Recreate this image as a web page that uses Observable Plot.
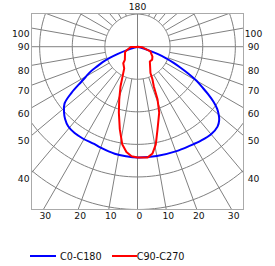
<!DOCTYPE html>
<html><head><meta charset="utf-8">
<script src="https://cdn.jsdelivr.net/npm/d3@7"></script>
<script src="https://cdn.jsdelivr.net/npm/@observablehq/plot@0.6"></script>
<style>
body{margin:0;background:#fff;font-family:"DejaVu Sans",Verdana,sans-serif;}
#wrap{position:relative;width:275px;height:266px;overflow:hidden;}
#chart svg{display:block;}
#legend{position:absolute;left:30px;top:249px;height:14px;display:flex;align-items:center;font-size:9.7px;color:#111;white-space:nowrap;}
.sw{display:inline-block;height:2px;}
</style></head><body><div id="wrap"><div id="chart"></div><div id="legend"></div></div>
<script>
// series
const seriesNames = ["C0-C180", "C90-C270"];
const seriesColors = ["#0000ff", "#ff0000"];
// grid
const circleValues = [100, 200, 300, 400, 500];
const spokeAngles = [10, 20, 30, 40, 50, 60, 70, 80, 100, 110, 120, 130, 140, 150, 160, 170];
// tick labels
const sideTickLabels = [100, 90, 80, 70, 60, 50, 40];
const bottomTickLabels = ["30", "20", "10", "0", "10", "20", "30"];
const bottomTickAngles = [-30, -20, -10, 0, 10, 20, 30];
const topTickLabel = "180";

// C0-C180 (blue): C180 half (left), gamma from 75 down to 0
const blueC180Gamma = [75, 74, 72, 70, 68, 66, 64, 62, 60, 58, 55, 52, 48, 45, 41, 36, 31, 24, 20, 12, 6, 0];
const blueC180Value = [0, 9, 34, 64, 92, 117, 138, 163, 181, 203, 247, 284, 303, 314, 324, 328, 328, 327, 330, 336, 338, 340];
// C0 half (right), gamma from 0 up to 75
const blueC0Gamma = [0, 10, 20, 28, 34, 40, 45, 48, 50, 52, 54, 56, 58, 60, 62, 64, 66, 68, 70, 72, 74, 75];
const blueC0Value = [340, 341, 342, 344, 348, 351, 347, 337, 325, 310, 288, 261, 233, 209, 178, 147, 120, 95, 67, 34, 9, 0];

// C90-C270 (red): C270 half (left), from top down
const redC270Gamma = [90, 86.7, 68, 43.9, 40.6, 31.5, 25.8, 23.2, 19.1, 15.8, 12.1, 8.9, 6, 3.1, 0];
const redC270Value = [0, 21, 41, 56, 67, 78, 108, 132, 171, 210, 259, 303, 325, 337, 340];
// C90 half (right), from bottom up
const redC90Gamma = [0, 5.1, 8, 10.6, 13.6, 18.2, 20.8, 22.3, 24.6, 26.2, 39.9, 48.5, 56.3, 70, 77.5, 85, 90];
const redC90Value = [340, 342, 331, 305, 261, 213, 173, 132, 110, 90, 59, 60, 55, 42, 20, 15, 0];

const rad = Math.PI / 180;
const toXY = (gs, vs, side) => gs.map((g, i) => ({x: side * vs[i] * Math.sin(g * rad), y: -vs[i] * Math.cos(g * rad)}));

const bluePath = [...toXY(blueC180Gamma, blueC180Value, -1), ...toXY(blueC0Gamma, blueC0Value, 1).slice(1)];
const redPath = [...toXY(redC270Gamma, redC270Value, -1), ...toXY(redC90Gamma, redC90Value, 1).slice(1)];

const XMAX = 325, YMIN = -500, YMAX = 102;

const circles = circleValues.flatMap(r => d3.range(0, 361, 2).map(a => ({r, x: r * Math.sin(a * rad), y: r * Math.cos(a * rad)})));
const inner = circleValues[0];
const far = 1500;
const spokes = spokeAngles.flatMap(a => [-1, 1].map(s => ({
  x1: s * inner * Math.sin(a * rad), y1: -inner * Math.cos(a * rad),
  x2: s * far * Math.sin(a * rad), y2: -far * Math.cos(a * rad)
})));
const axes = [{x1: -far, y1: 0, x2: far, y2: 0}, {x1: 0, y1: -far, x2: 0, y2: far}];

const sideY = a => -XMAX * Math.cos(a * rad) / Math.sin(a * rad);
const side90 = sideTickLabels.filter(a => a === 90);
const sideOther = sideTickLabels.filter(a => a !== 90);
const bottomData = bottomTickAngles.map((a, i) => ({a, t: bottomTickLabels[i]}));

const grid = "#808080";
const plot = Plot.plot({
  width: 275, height: 230,
  marginLeft: 31, marginRight: 32, marginTop: 13, marginBottom: 21,
  x: {domain: [-XMAX, XMAX], axis: null},
  y: {domain: [YMIN, YMAX], axis: null},
  style: {fontFamily: "'DejaVu Sans', Verdana, sans-serif", fontSize: "9.2px", background: "#fff", overflow: "visible"},
  marks: [
    Plot.line(circles, {x: "x", y: "y", z: "r", stroke: grid, strokeWidth: 1, clip: true}),
    Plot.link(spokes, {x1: "x1", y1: "y1", x2: "x2", y2: "y2", stroke: grid, strokeWidth: 1, clip: true}),
    Plot.link(axes, {x1: "x1", y1: "y1", x2: "x2", y2: "y2", stroke: grid, strokeWidth: 1, clip: true}),
    Plot.frame({stroke: "#aaaaaa"}),
    Plot.line(bluePath, {x: "x", y: "y", stroke: seriesColors[0], strokeWidth: 2, curve: "catmull-rom", clip: true}),
    Plot.line(redPath, {x: "x", y: "y", stroke: seriesColors[1], strokeWidth: 2, curve: "linear", clip: true}),
    Plot.text(sideOther, {x: -XMAX, y: sideY, text: d => String(d), textAnchor: "end", dx: -2, dy: 6, fill: "#111"}),
    Plot.text(side90, {x: -XMAX, y: sideY, text: d => String(d), textAnchor: "end", dx: -2, dy: 0, fill: "#111"}),
    Plot.text(sideOther, {x: XMAX, y: sideY, text: d => String(d), textAnchor: "middle", dx: 10, dy: 6, fill: "#111"}),
    Plot.text(side90, {x: XMAX, y: sideY, text: d => String(d), textAnchor: "middle", dx: 10, dy: 0, fill: "#111"}),
    Plot.text(bottomData, {x: d => -YMIN * Math.tan(d.a * rad), y: YMIN, text: "t", textAnchor: "middle", dx: 2, dy: 7, fill: "#111"}),
    Plot.text([topTickLabel], {x: 0, y: YMAX, text: d => d, textAnchor: "middle", dy: -6, fill: "#111"})
  ]
});
document.getElementById("chart").appendChild(plot);

const legend = document.getElementById("legend");
seriesNames.forEach((name, i) => {
  const sw = document.createElement("span");
  sw.className = "sw";
  sw.style.background = seriesColors[i];
  sw.style.width = i === 0 ? "26px" : "25px";
  sw.style.marginLeft = i === 0 ? "0" : "10px";
  sw.style.marginRight = i === 0 ? "4px" : "0";
  const tx = document.createElement("span");
  tx.textContent = name;
  legend.appendChild(sw);
  legend.appendChild(tx);
});
</script>
</body></html>
